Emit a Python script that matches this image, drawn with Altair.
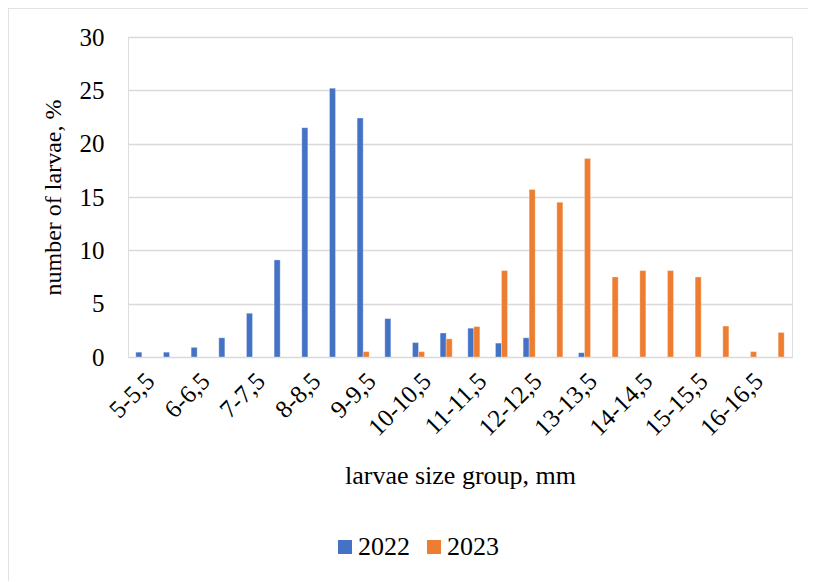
import altair as alt
import pandas as pd

categories = ["5-5,5", "5,5-6", "6-6,5", "6,5-7", "7-7,5", "7,5-8", "8-8,5", "8,5-9",
              "9-9,5", "9,5-10", "10-10,5", "10,5-11", "11-11,5", "11,5-12", "12-12,5",
              "12,5-13", "13-13,5", "13,5-14", "14-14,5", "14,5-15", "15-15,5",
              "15,5-16", "16-16,5", "16,5-17"]
shown_labels = ["5-5,5", "6-6,5", "7-7,5", "8-8,5", "9-9,5", "10-10,5", "11-11,5",
                "12-12,5", "13-13,5", "14-14,5", "15-15,5", "16-16,5"]
v2022 = [0.45, 0.45, 0.9, 1.8, 4.1, 9.1, 21.5, 25.2, 22.4, 3.6, 1.35, 2.25, 2.7, 1.3,
         1.8, 0, 0.4, 0, 0, 0, 0, 0, 0, 0]
v2023 = [0, 0, 0, 0, 0, 0, 0, 0, 0.5, 0, 0.5, 1.7, 2.85, 8.1, 15.7, 14.5, 18.6, 7.5,
         8.1, 8.1, 7.5, 2.9, 0.5, 2.3]
years = ["2022", "2023"]
colors = ["#4472C4", "#ED7D31"]

rows = []
for c, a, b in zip(categories, v2022, v2023):
    rows.append({"group": c, "year": years[0], "value": a})
    rows.append({"group": c, "year": years[1], "value": b})
df = pd.DataFrame(rows)

FONT = "Liberation Serif"

bars = alt.Chart(df).transform_filter(alt.datum.value > 0).mark_bar(
    stroke="white", strokeWidth=0.5, strokeOpacity=0.6
).encode(
    x=alt.X("group:N", sort=categories,
            scale=alt.Scale(paddingInner=0.565, paddingOuter=0.2825),
            axis=alt.Axis(title="larvae size group, mm", values=shown_labels,
                          labelAngle=-45, ticks=False, domain=False, grid=False,
                          labelFontSize=25, labelFont=FONT, labelColor="black",
                          labelPadding=11, titleFont=FONT, titleFontSize=26,
                          titleFontWeight="normal", titleColor="black",
                          titlePadding=22, labelOverlap=False)),
    xOffset=alt.XOffset("year:N", scale=alt.Scale(paddingInner=0, paddingOuter=0)),
    y=alt.Y("value:Q", scale=alt.Scale(domain=[0, 30], nice=False),
            axis=alt.Axis(title="number of larvae, %", values=[0, 5, 10, 15, 20, 25, 30],
                          ticks=False, domain=False, gridColor="#D9D9D9",
                          gridWidth=1.5, labelFontSize=25, labelFont=FONT,
                          labelColor="black", labelPadding=24, titleFont=FONT,
                          titleFontSize=24, titleFontWeight="normal",
                          titleColor="black", titlePadding=14)),
    color=alt.Color("year:N", scale=alt.Scale(domain=years, range=colors),
                    legend=alt.Legend(title=None, orient="none", direction="horizontal",
                                      legendX=204, legendY=497, symbolType="square",
                                      symbolSize=196, symbolStrokeWidth=0,
                                      labelFont=FONT, labelFontSize=26,
                                      labelColor="black", columnPadding=11,
                                      labelOffset=0)),
)

border_top = alt.Chart(pd.DataFrame({"k": [0]})).mark_rule(
    color="#D9D9D9", strokeWidth=1.5
).encode(x=alt.value(-121), x2=alt.value(700), y=alt.value(-29))
border_left = alt.Chart(pd.DataFrame({"k": [0]})).mark_rule(
    color="#D9D9D9", strokeWidth=1.5
).encode(x=alt.value(-120), y=alt.value(-29), y2=alt.value(560))

chart = alt.layer(border_top, border_left, bars).properties(
    width=664, height=320,
    autosize=alt.AutoSizeParams(type="none"),
    padding={"left": 120, "top": 29, "right": 16, "bottom": 224},
).configure_view(stroke=None).configure(background="white")

chart.save("out.html", embed_options={"renderer": "svg", "actions": False})
